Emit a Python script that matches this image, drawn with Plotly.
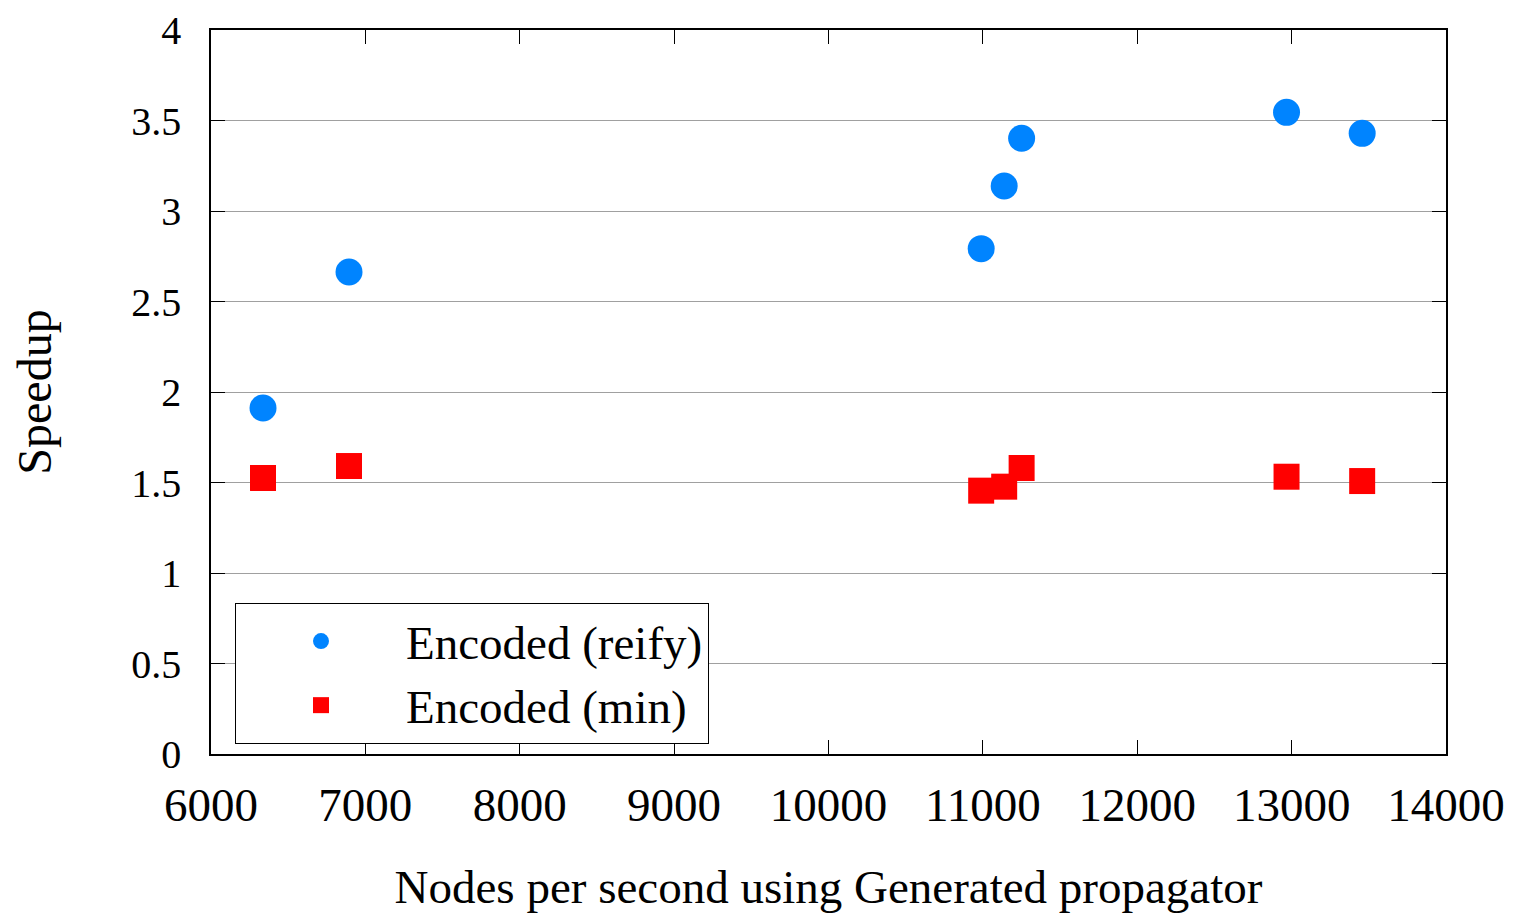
import plotly.graph_objects as go

nodes_per_sec = [6337, 6894, 10989, 11138, 11251, 12967, 13457]
speedup_reify = [1.912, 2.663, 2.792, 3.138, 3.402, 3.545, 3.429]
speedup_min = [1.525, 1.591, 1.455, 1.477, 1.580, 1.532, 1.508]

x_ticks = [6000, 7000, 8000, 9000, 10000, 11000, 12000, 13000, 14000]
y_ticks = [0, 0.5, 1, 1.5, 2, 2.5, 3, 3.5, 4]
y_tick_text = ["0", "0.5", "1", "1.5", "2", "2.5", "3", "3.5", "4"]

FONT = "Liberation Serif"
# page has an 8px body margin; compensate so the plot area lands at 211..1446 x 30..754
L, R, T, B = 203, 73, 22, 163
W, H = 1511, 909
PW, PH = W - L - R, H - T - B

fig = go.Figure()
fig.add_trace(go.Scatter(
    x=nodes_per_sec, y=speedup_reify, mode="markers", name="Encoded (reify)",
    marker=dict(symbol="circle", size=27, color="#0084FF", line=dict(width=0)),
))
fig.add_trace(go.Scatter(
    x=nodes_per_sec, y=speedup_min, mode="markers", name="Encoded (min)",
    marker=dict(symbol="square", size=26, color="#FF0000", line=dict(width=0)),
))

fig.update_layout(
    width=W, height=H,
    margin=dict(l=L, r=R, t=T, b=B, autoexpand=False),
    paper_bgcolor="white", plot_bgcolor="white",
    font=dict(family=FONT, size=42, color="black"),
    showlegend=True,
    legend=dict(
        x=(235 - 211) / PW, y=(754 - 744) / PH, xanchor="left", yanchor="bottom",
        bordercolor="black", borderwidth=1, bgcolor="white",
        font=dict(family=FONT, size=47), itemwidth=160, itemsizing="trace",
        tracegroupgap=0,
    ),
    xaxis=dict(
        range=[6000, 14000], tickvals=x_ticks, ticktext=[str(v) for v in x_ticks],
        showgrid=False, zeroline=False, showline=True, linecolor="black", linewidth=1.5,
        mirror="allticks", ticks="inside", ticklen=14, tickcolor="black", tickwidth=1,
        tickfont=dict(family=FONT, size=47), ticklabelstandoff=9, automargin=False,
        ticklabeloverflow="allow",
        title=dict(text="Nodes per second using Generated propagator", font=dict(family=FONT, size=47), standoff=40),
    ),
    yaxis=dict(
        range=[0, 4], tickvals=y_ticks, ticktext=y_tick_text,
        showgrid=True, gridcolor="#A0A0A0", gridwidth=1,
        zeroline=False, showline=True, linecolor="black", linewidth=1.5,
        mirror="allticks", ticks="inside", ticklen=14, tickcolor="black", tickwidth=1,
        tickfont=dict(family=FONT, size=40), ticklabelstandoff=20, automargin=False,
        ticklabeloverflow="allow",
        title=dict(text="Speedup", font=dict(family=FONT, size=48), standoff=70),
    ),
)

fig.write_html("out.html")
